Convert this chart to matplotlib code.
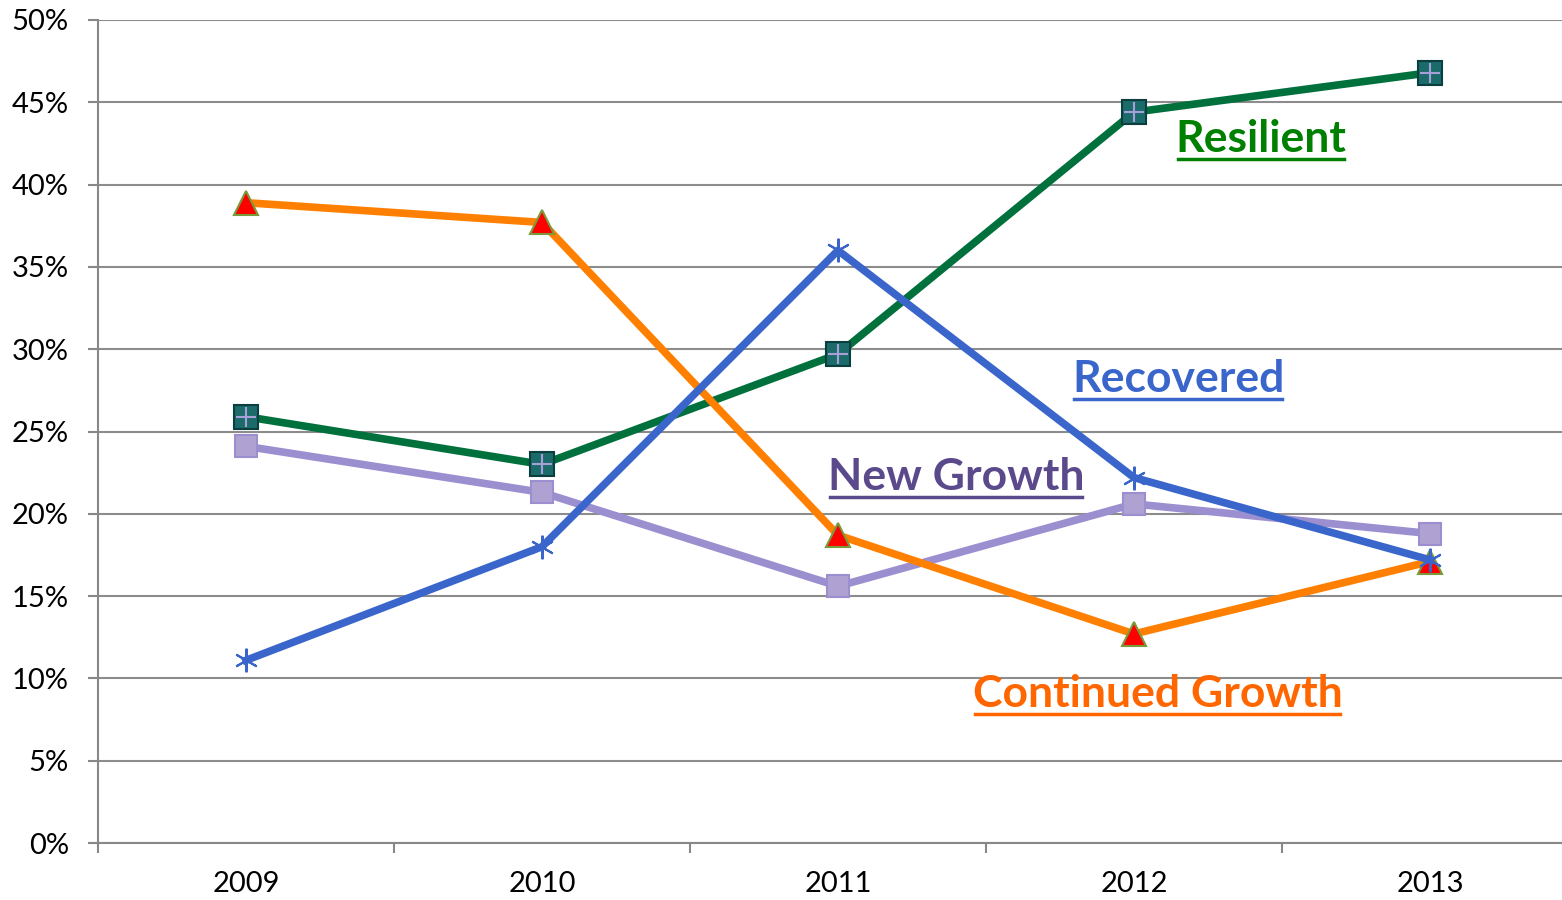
import matplotlib
matplotlib.use("Agg")
import matplotlib.pyplot as plt
from matplotlib.lines import Line2D

years = ["2009", "2010", "2011", "2012", "2013"]
resilient = [25.9, 23.0, 29.7, 44.4, 46.8]
recovered = [11.1, 18.0, 36.0, 22.2, 17.2]
new_growth = [24.1, 21.3, 15.6, 20.6, 18.8]
continued_growth = [38.9, 37.7, 18.7, 12.7, 17.1]

plt.rcParams['font.family'] = ['Lato', 'DejaVu Sans']

fig = plt.figure(figsize=(15.62, 9), dpi=100)
ax = fig.add_axes([98 / 1562, 57 / 900, 1480 / 1562, 823 / 900])

x = list(range(len(years)))

# series lines + markers
ax.plot(x, new_growth, color='#9B8FD0', lw=5.5, zorder=3,
        marker='s', ms=16, mfc='#AFA2D2', mec='#9B8FD0', mew=1.5)
ax.plot(x, resilient, color='#00703C', lw=5.5, zorder=4,
        marker='s', ms=17, mfc='#1C6B6B', mec='#0B3F3F', mew=1.5)
ax.plot(x, resilient, lw=0, zorder=5, marker='+', ms=14, mec='#A7A0D8', mew=1.5)
ax.plot(x, continued_growth, color='#FF8000', lw=5.5, zorder=6,
        marker='^', ms=17, mfc='#FF0000', mec='#7A9A3A', mew=1.5)
ax.plot(x, recovered, color='#3A66CC', lw=5.5, zorder=7,
        marker=(6, 2, 0), ms=17, mec='#3A66CC', mew=1.5)

ax.set_xlim(-0.5, 4.5)
ax.set_ylim(0, 50)
ax.set_yticks(range(0, 51, 5))
ax.set_yticklabels([f"{v}%" for v in range(0, 51, 5)], fontsize=21)
ax.set_xticks(x)
ax.set_xticklabels(years, fontsize=21)
ax.set_xticks([i - 0.5 for i in range(len(years) + 1)], minor=True)
ax.tick_params(axis='x', which='major', length=0, pad=20)
ax.tick_params(axis='x', which='minor', length=7, width=1.5, color='#888888')
ax.tick_params(axis='y', length=7, width=1.5, color='#888888', pad=14)

ax.grid(axis='y', color='#8C8C8C', lw=1.5, zorder=1)
ax.set_axisbelow(True)
for s in ['top', 'right']:
    ax.spines[s].set_visible(False)
for s in ['left', 'bottom']:
    ax.spines[s].set_color('#888888')
    ax.spines[s].set_linewidth(1.5)

labels = [
    ("Resilient", 3.43, 41.98, '#008000'),
    ("Recovered", 3.15, 27.4, '#3A66CC'),
    ("New Growth", 2.4, 21.45, '#5B4A8B'),
    ("Continued Growth", 3.08, 8.26, '#FF6600'),
]
texts = []
for txt, tx, ty, col in labels:
    t = ax.text(tx, ty, txt, color=col, fontsize=32, fontweight='bold',
                ha='center', va='baseline', zorder=10)
    texts.append((t, col, ty))

# underline each label just below its baseline
fig.canvas.draw()
inv = fig.transFigure.inverted()
for t, col, ty in texts:
    bb = t.get_window_extent()
    base = ax.transData.transform((0, ty))[1]
    y = base - 7
    (x0, y0), (x1, _) = inv.transform([(bb.x0 + 2, y), (bb.x1 - 3, y)])
    fig.add_artist(Line2D([x0, x1], [y0, y0], color=col, lw=2.5))

fig.savefig("out.png", dpi=100)
